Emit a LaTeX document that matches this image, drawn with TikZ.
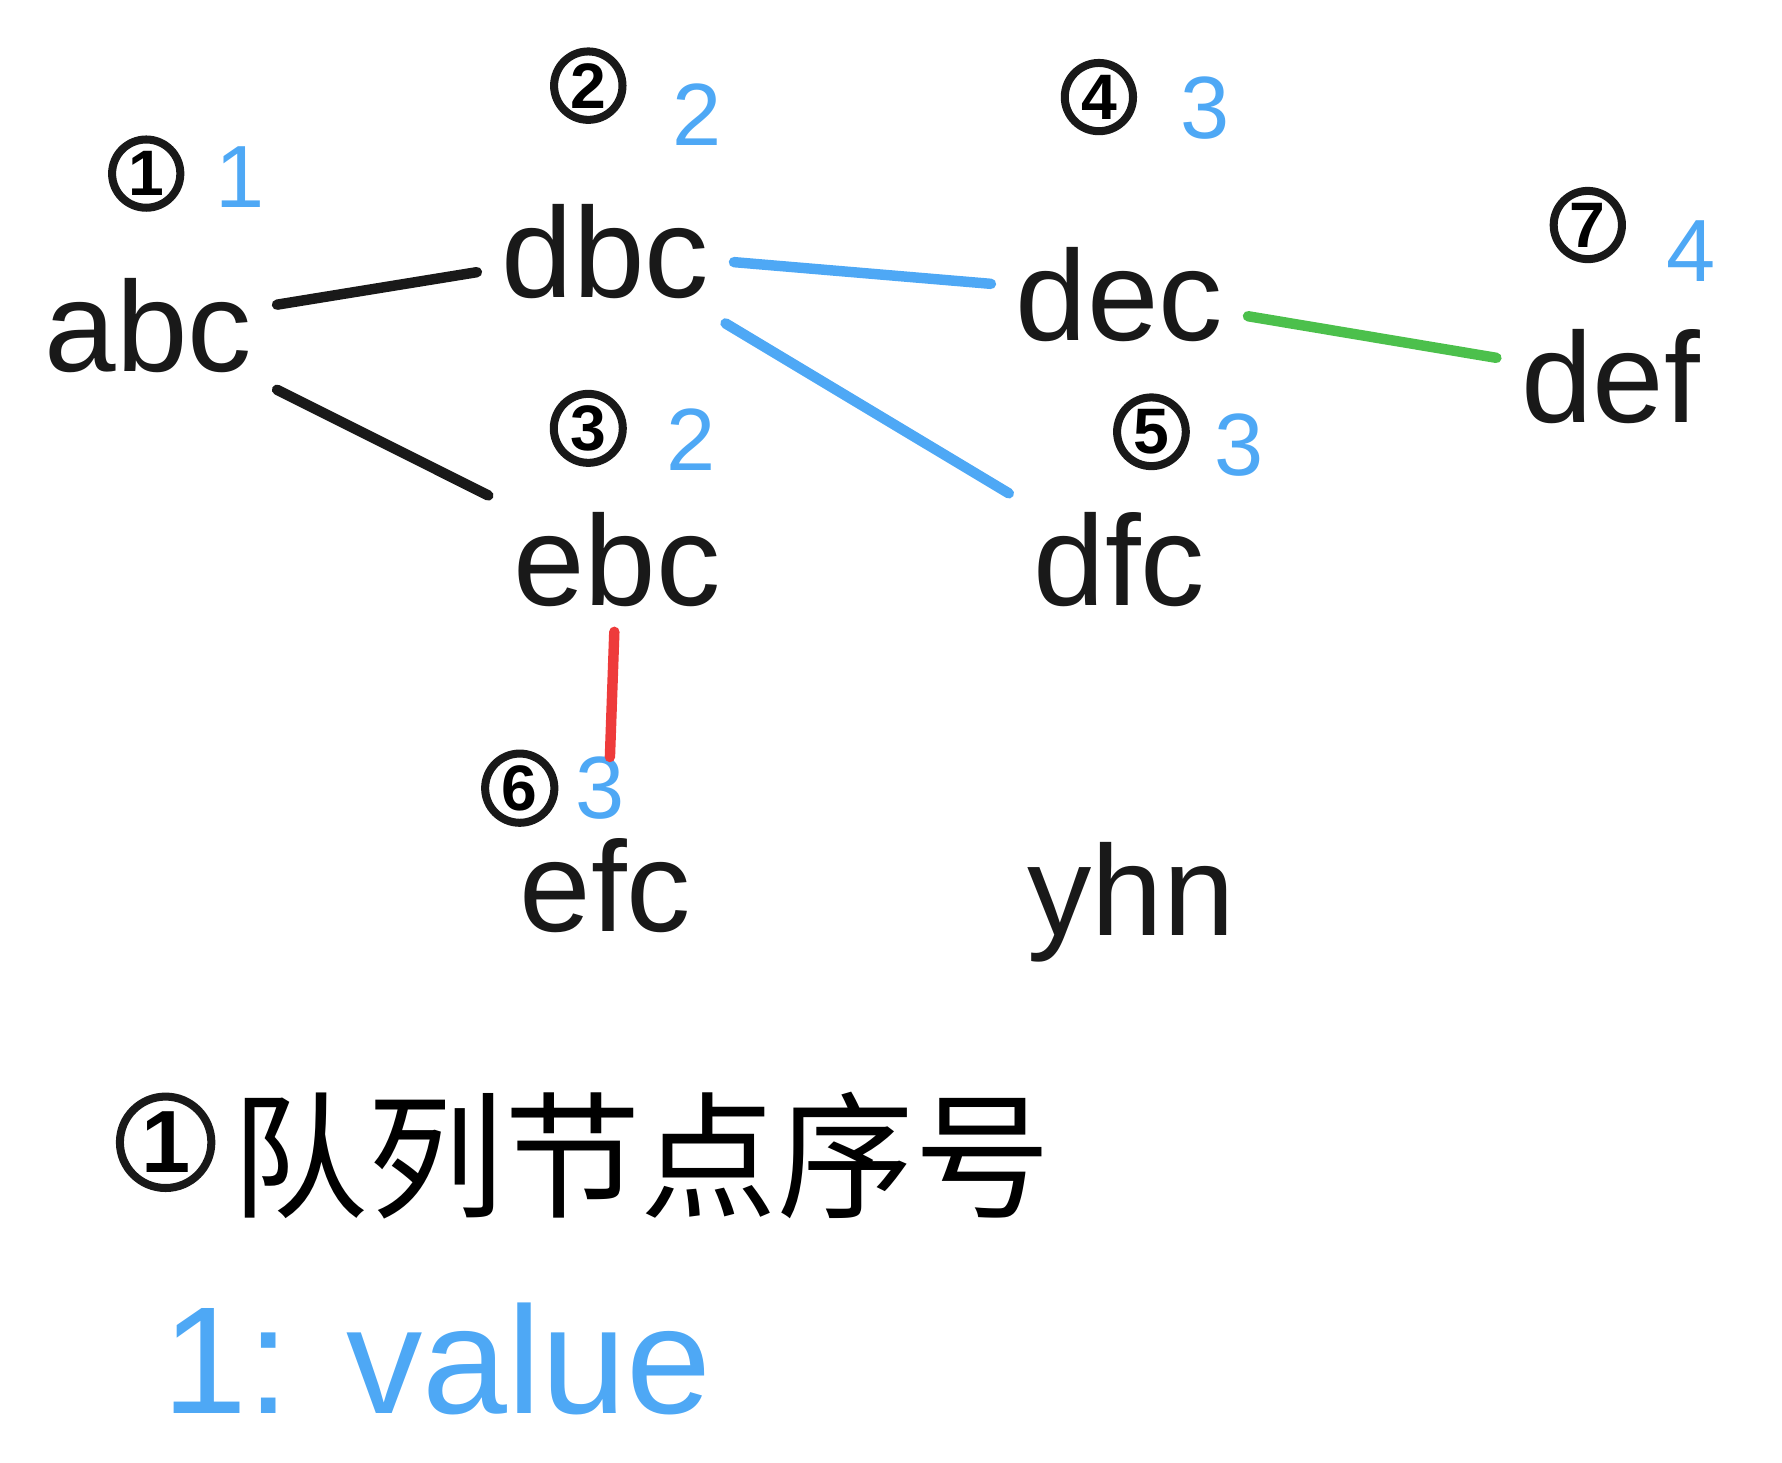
\documentclass[tikz,border=0pt]{standalone}
\usepackage{fontspec}
\setmainfont{Liberation Sans}
\newfontfamily\cjk{Noto Sans CJK SC}
\definecolor{hblue}{HTML}{4EA8F5}
\definecolor{hred}{HTML}{EE3B3B}
\definecolor{hgreen}{HTML}{4CC04C}
\begin{document}
\begin{tikzpicture}[x=0.01cm,y=-0.01cm,
  word/.style={font=\fontsize{32}{36}\selectfont,text=black!90,inner sep=6pt},
  num/.style={circle,draw=black!90,line width=2pt,font=\fontsize{16}{18}\selectfont\bfseries,inner sep=1pt,minimum size=0.55cm},
  val/.style={font=\fontsize{22}{26}\selectfont,text=hblue},
  edge/.style={line width=2.6pt,line cap=round}]
\useasboundingbox (0,0) rectangle (1560,1280);
\node[word] (abc) at (130,285) {abc};
\node[num] (n1) at (128,152) {1};
\node[val] (v1) at (210,155) {1};
\node[word] (dbc) at (530,220) {dbc};
\node[num] (n2) at (515,75) {2};
\node[val] (v2) at (610,100) {2};
\node[word] (ebc) at (540,490) {ebc};
\node[num] (n3) at (515,375) {3};
\node[val] (v3) at (605,385) {2};
\node[word] (dec) at (980,258) {dec};
\node[num] (n4) at (962,85) {4};
\node[val] (v4) at (1055,95) {3};
\node[word] (dfc) at (980,490) {dfc};
\node[num] (n5) at (1008,378) {5};
\node[val] (v5) at (1085,390) {3};
\node[word] (def) at (1410,330) {def};
\node[num] (n7) at (1390,197) {7};
\node[val] (v7) at (1480,220) {4};
\node[word] (efc) at (530,775) {efc};
\node[num] (n6) at (455,690) {6};
\node[val] (v6) at (525,690) {3};
\node[word] (yhn) at (990,790) {yhn};
\draw[edge,black!90] (abc) -- (dbc);
\draw[edge,black!90] (abc) -- (ebc);
\draw[edge,hblue] (dbc) -- (dec);
\draw[edge,hblue] (dbc) -- (dfc);
\draw[edge,hred,shorten >=14pt] (ebc) -- (efc);
\draw[edge,hgreen] (dec) -- (def);
\node[num,minimum size=0.8cm,font=\fontsize{22}{24}\selectfont\bfseries] (ln) at (145,1000) {1};
\node[font=\fontsize{34}{40}\selectfont\cjk,anchor=west] (lt) at (190,1012) {队列节点序号};
\node[font=\fontsize{38}{44}\selectfont,text=hblue,anchor=west] (lv) at (130,1190) {1: value};
\end{tikzpicture}
\end{document}
